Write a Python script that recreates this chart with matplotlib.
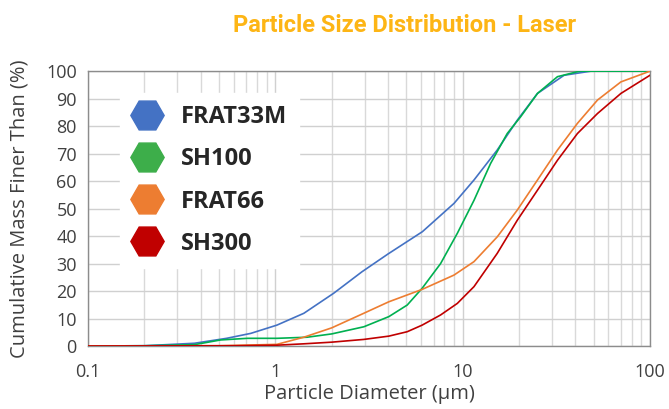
import matplotlib.pyplot as plt
import matplotlib.lines as mlines

# Data (diameter in um, cumulative %)
d_frat33m = [0.1, 0.2, 0.37, 0.55, 0.74, 1.02, 1.42, 2.05, 2.9, 4.0, 6.1, 9.0, 11.5, 15.3, 19.6, 25.1, 34.8, 48.3, 100]
v_frat33m = [0.0, 0.1, 1.0, 2.8, 4.6, 7.6, 11.9, 19.2, 27.0, 33.5, 41.6, 51.9, 60.4, 71.3, 82.2, 91.9, 98.5, 100, 100]

d_sh100 = [0.1, 0.2, 0.37, 0.51, 0.71, 1.02, 1.48, 2.0, 2.97, 4.04, 5.06, 6.08, 7.63, 9.37, 11.5, 14.1, 17.3, 20.4, 25.1, 32.1, 42.2, 100]
v_sh100 = [0.0, 0.1, 0.5, 2.2, 2.8, 2.8, 3.2, 4.4, 7.0, 10.7, 14.9, 21.0, 30.0, 41.0, 53.0, 66.4, 77.3, 83.4, 91.9, 98.0, 100, 100]

d_frat66 = [0.1, 0.5, 1.02, 1.42, 2.0, 2.9, 4.04, 6.08, 8.99, 11.5, 15.3, 19.6, 25.1, 32.1, 41.0, 52.5, 70, 100]
v_frat66 = [0.0, 0.1, 0.6, 3.2, 6.6, 11.6, 16.1, 20.6, 25.8, 30.7, 39.7, 49.5, 60.4, 71.3, 81.0, 89.5, 96.1, 100]

d_sh300 = [0.1, 0.6, 1.02, 1.42, 2.0, 2.97, 4.04, 5.06, 6.08, 7.63, 9.37, 11.5, 15.3, 19.6, 25.1, 32.1, 41.0, 52.5, 70, 100]
v_sh300 = [0.0, 0.1, 0.3, 0.8, 1.4, 2.4, 3.6, 5.2, 7.6, 11.3, 15.5, 21.6, 33.7, 45.8, 56.7, 67.6, 77.3, 84.6, 91.9, 98.5]

names = ['FRAT33M', 'SH100', 'FRAT66', 'SH300']
colors = ['#4472C4', '#00B050', '#ED7D31', '#C00000']
marker_colors = ['#4472C4', '#3DAE4A', '#ED7D31', '#C00000']

x_ticks = [0.1, 1, 10, 100]
x_tick_labels = ['0.1', '1', '10', '100']
y_ticks = list(range(0, 101, 10))

plt.rcParams['font.family'] = ['Open Sans', 'DejaVu Sans']

fig = plt.figure(figsize=(6.69, 4.09), dpi=100)
ax = fig.add_axes([0.1315, 0.154, 0.840, 0.672])

series = [(d_frat33m, v_frat33m), (d_sh100, v_sh100), (d_frat66, v_frat66), (d_sh300, v_sh300)]
for (d, v), c in zip(series, colors):
    ax.plot(d, v, color=c, lw=1.2, zorder=3)

ax.set_xscale('log')
ax.set_xlim(0.1, 100)
ax.set_ylim(0, 100)
ax.set_xticks(x_ticks)
ax.set_xticklabels(x_tick_labels)
ax.set_yticks(y_ticks)
ax.grid(which='major', color='#d0d0d0', lw=1.0)
ax.grid(which='minor', axis='x', color='#d9d9d9', lw=1.0)
ax.tick_params(which='both', length=0, labelsize=13, colors='#404040')
ax.tick_params(axis='x', pad=12.5)
ax.tick_params(axis='y', pad=8)
for s in ax.spines.values():
    s.set_color('#8c8c8c')
    s.set_linewidth(1.0)

ax.set_xlabel('Particle Diameter (µm)', fontsize=14.5, color='#404040', labelpad=2)
ax.set_ylabel('Cumulative Mass Finer Than (%)', fontsize=14.5, color='#404040', labelpad=12)

fig.text(0.605, 0.937, 'Particle Size Distribution - Laser', ha='center', va='center',
         fontsize=17, fontweight='bold', color='#FDB515',
         family=['Roboto', 'DejaVu Sans'])

handles = [mlines.Line2D([], [], ls='none', marker='H', markersize=24,
                         markerfacecolor=mc, markeredgecolor=mc) for mc in marker_colors]
leg = ax.legend(handles, names, loc='upper left', bbox_to_anchor=(0.036, 0.962),
                frameon=True, fancybox=False, framealpha=1, edgecolor='white',
                prop={'weight': 'bold', 'size': 17}, labelspacing=0.77,
                handletextpad=0.78, borderpad=0.5, handlelength=1.3)
for t in leg.get_texts():
    t.set_color('#262626')

fig.savefig('out.png', dpi=100)
